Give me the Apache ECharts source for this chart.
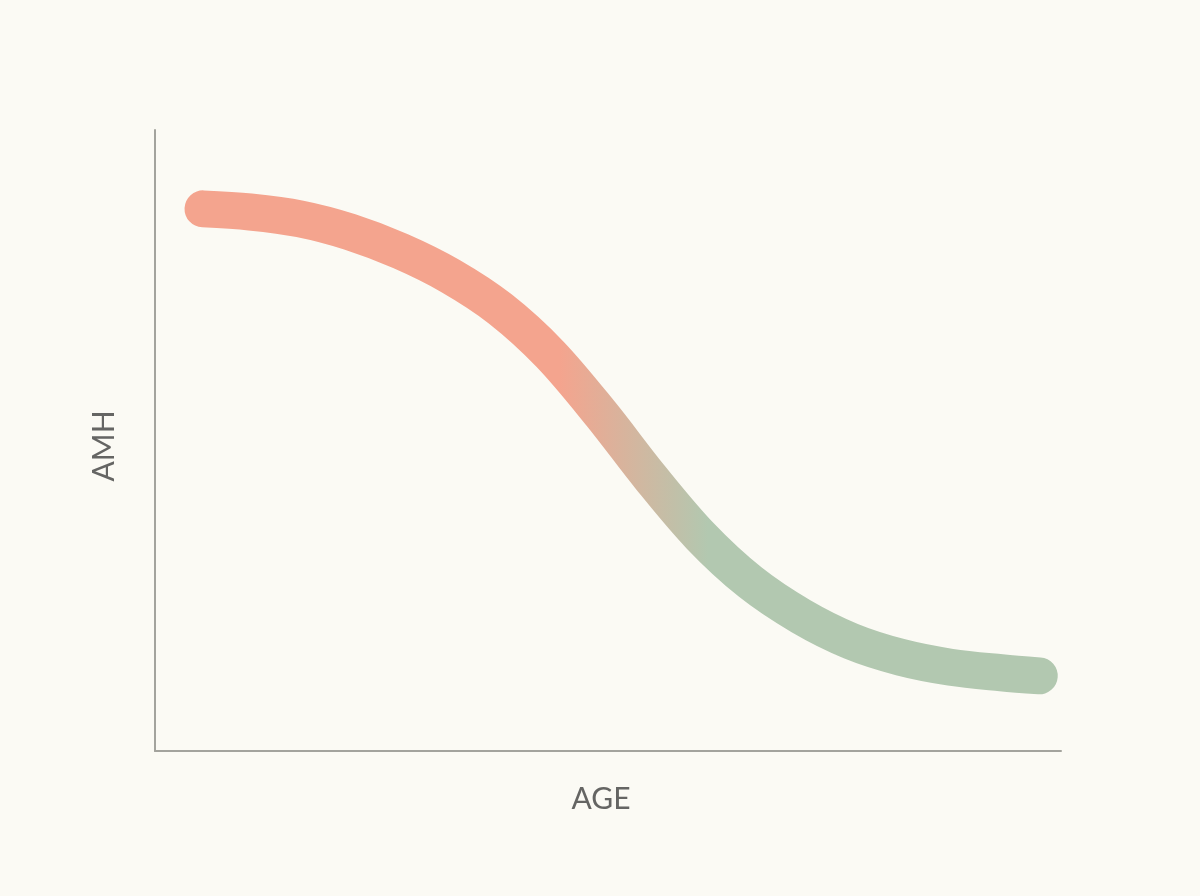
<!DOCTYPE html>
<html>
<head>
<meta charset="utf-8">
<script src="https://cdn.jsdelivr.net/npm/echarts@6/dist/echarts.min.js"></script>
<style>
html,body{margin:0;padding:0;background:#fbfaf4;}
#chart{width:1200px;height:896px;}
</style>
</head>
<body>
<div id="chart"></div>
<script>
const ageValues = [5.3,10.5,16.0,21.5,27.1,32.6,38.1,43.6,49.2,54.7,60.2,65.7,71.3,76.8,82.3,87.8,93.4,97.6];
const amhValues = [87.3,86.8,85.7,83.6,80.5,76.5,71.2,63.9,54.3,44.0,34.6,27.2,21.7,17.7,15.1,13.5,12.6,12.1];
const xName = 'AGE';
const yName = 'AMH';

const chart = echarts.init(document.getElementById('chart'));
chart.setOption({
  backgroundColor: '#fbfaf4',
  animation: false,
  grid: {left: 155, right: 139, top: 130, bottom: 145},
  xAxis: {
    type: 'value', min: 0, max: 100,
    name: xName, nameLocation: 'middle', nameGap: 33,
    nameTextStyle: {fontFamily: 'Lato', fontSize: 30, color: '#656563', padding: [0, 14, 0, 0]},
    axisLine: {show: true, lineStyle: {color: '#a3a39d', width: 2}},
    axisTick: {show: false}, axisLabel: {show: false}, splitLine: {show: false}
  },
  yAxis: {
    type: 'value', min: 0, max: 100,
    name: yName, nameLocation: 'middle', nameGap: 36,
    nameTextStyle: {fontFamily: 'Lato', fontSize: 30, color: '#656563', padding: [0, 11, 0, 0]},
    axisLine: {show: true, lineStyle: {color: '#a3a39d', width: 2}},
    axisTick: {show: false}, axisLabel: {show: false}, splitLine: {show: false}
  },
  series: [{
    type: 'line',
    data: ageValues.map((a, i) => [a, amhValues[i]]),
    smooth: 0.34,
    symbol: 'none',
    lineStyle: {
      width: 37,
      cap: 'round',
      join: 'round',
      color: new echarts.graphic.LinearGradient(0, 0, 1, 0, [
        {offset: 0, color: '#f4a48e'},
        {offset: 0.43, color: '#f4a48e'},
        {offset: 0.6, color: '#b2c8b0'},
        {offset: 1, color: '#b2c8b0'}
      ])
    }
  }]
});
</script>
</body>
</html>
